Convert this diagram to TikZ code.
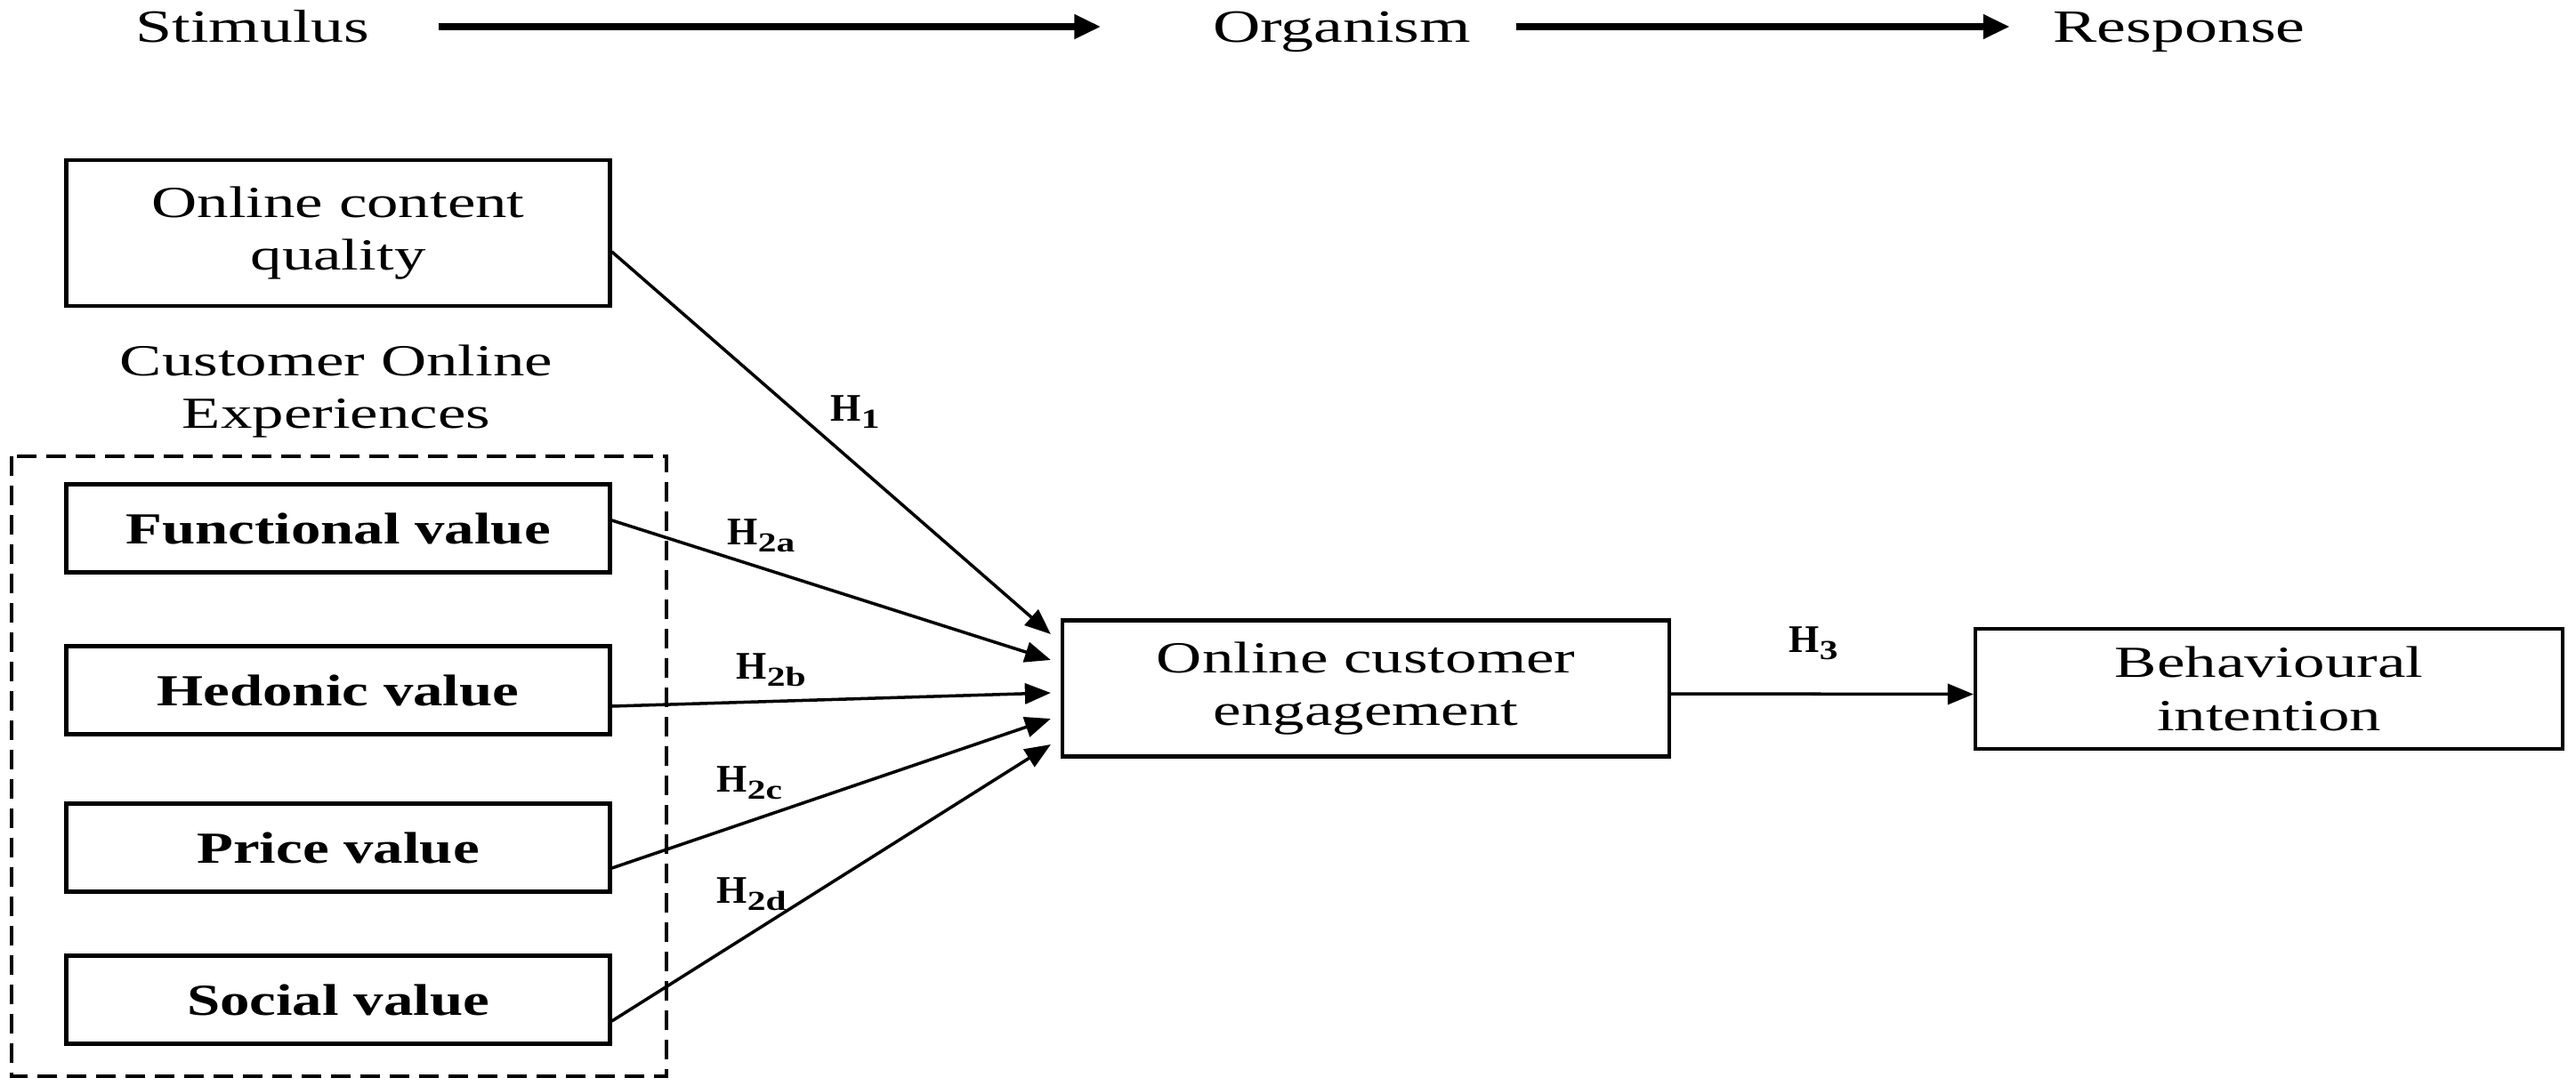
\documentclass[tikz,border=0pt]{standalone}
\usepackage{fontspec}
\setmainfont{Liberation Serif}[FakeStretch=1.42, BoldFeatures={FakeStretch=1.34}]
\newfontfamily\hypfont{Liberation Serif}
\usetikzlibrary{arrows.meta}

\newcommand{\hlabel}[1]{H\raisebox{-2.3pt}{\rmfamily\fontsize{8.8}{10}\selectfont #1}}

\begin{document}
\begin{tikzpicture}[
    box/.style={rectangle, draw, line width=1.2pt, minimum width=6.11cm, align=center, inner sep=0pt, font=\fontsize{14.2}{17}\selectfont},
    valbox/.style={box, minimum height=0.99cm, font=\fontsize{14.2}{17}\selectfont\bfseries},
    lbl/.style={inner sep=0pt, align=center, font=\fontsize{14.2}{17}\selectfont},
    toplbl/.style={inner sep=0pt, anchor=base, font=\fontsize{14.8}{17}\selectfont},
    hyp/.style={inner sep=0pt, anchor=base west, font=\hypfont\fontsize{12.5}{14}\selectfont\bfseries},
    arrow/.style={-{Triangle[length=0.29cm,width=0.23cm]}, line width=1pt},
    flow/.style={-{Triangle[length=0.3cm,width=0.26cm]}, line width=2.3pt}
]
    \useasboundingbox (0,0) rectangle (28.95,-12.21);

    % S-O-R header
    \node[toplbl] (stim) at (2.84,-0.47) {Stimulus};
    \node[toplbl] (org) at (15.08,-0.47) {Organism};
    \node[toplbl] (resp) at (24.49,-0.47) {Response};
    \draw[flow, shorten <=0.77cm, shorten >=1.25cm] ([yshift=0.17cm]stim.base east) -- ([yshift=0.17cm]org.base west);
    \draw[flow, shorten <=0.5cm, shorten >=0.48cm] ([yshift=0.17cm]org.base east) -- ([yshift=0.17cm]resp.base west);

    % antecedents
    \node[box, minimum height=1.64cm] (quality) at (3.80,-2.62) {Online content\\quality};
    \node[lbl] (coe) at (3.78,-4.40) {Customer Online\\Experiences};
    \node[valbox] (functional) at (3.80,-5.94) {Functional value};
    \node[valbox] (hedonic) at (3.80,-7.76) {Hedonic value};
    \node[valbox] (price) at (3.80,-9.53) {Price value};
    \node[valbox] (social) at (3.80,-11.24) {Social value};
    \draw[line width=1.2pt, dash pattern=on 0.22cm off 0.11cm] (0.13,-5.13) rectangle (7.49,-12.10);

    % mediator and outcome
    \node[box, minimum width=6.82cm, minimum height=1.53cm] (engage) at (15.35,-7.74) {Online customer\\engagement};
    \node[box, minimum width=6.60cm, minimum height=1.35cm] (intent) at (25.50,-7.745) {Behavioural\\intention};

    \draw[arrow] ([yshift=-0.21cm]quality.east) -- ([xshift=-0.11cm,yshift=0.61cm]engage.west);
    \draw[arrow] ([yshift=0.09cm]functional.east) -- ([xshift=-0.11cm,yshift=0.32cm]engage.west);
    \draw[arrow] ([yshift=-0.18cm]hedonic.east) -- ([xshift=-0.11cm,yshift=-0.05cm]engage.west);
    \draw[arrow] ([yshift=-0.23cm]price.east) -- ([xshift=-0.11cm,yshift=-0.34cm]engage.west);
    \draw[arrow] ([yshift=-0.24cm]social.east) -- ([xshift=-0.11cm,yshift=-0.63cm]engage.west);
    \draw[arrow] ([yshift=-0.06cm]engage.east) -- ([yshift=-0.06cm]intent.west);

    % hypotheses
    \node[hyp] (h1) at (9.33,-4.73) {\hlabel{1}};
    \node[hyp] (h2a) at (8.17,-6.12) {\hlabel{2a}};
    \node[hyp] (h2b) at (8.27,-7.63) {\hlabel{2b}};
    \node[hyp] (h2c) at (8.05,-8.90) {\hlabel{2c}};
    \node[hyp] (h2d) at (8.05,-10.15) {\hlabel{2d}};
    \node[hyp] (h3) at (20.10,-7.33) {\hlabel{3}};
\end{tikzpicture}
\end{document}
